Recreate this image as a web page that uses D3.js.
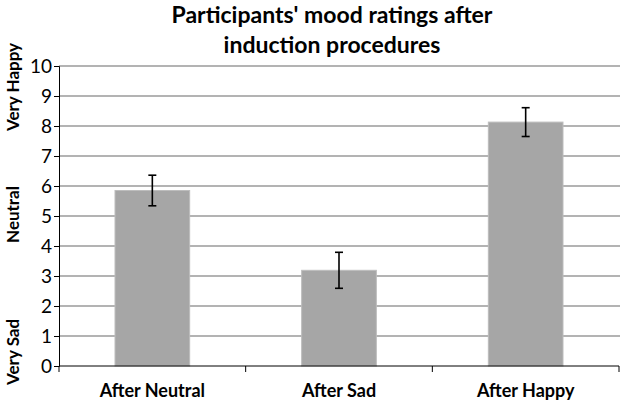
<!DOCTYPE html>
<html><head><meta charset="utf-8">
<script src="https://cdn.jsdelivr.net/npm/d3@7"></script>
<style>body{margin:0;background:#fff}svg{display:block;font-family:Lato,"Open Sans",sans-serif}</style>
</head><body><svg id="c" width="622" height="403"></svg>
<script>
const categories = ["After Neutral", "After Sad", "After Happy"];
const means = [5.85, 3.19, 8.13];
const errors = [0.51, 0.6, 0.48];
const yTicks = [0,1,2,3,4,5,6,7,8,9,10];
const titleLines = ["Participants' mood ratings after", "induction procedures"];
const sideLabels = [{text:"Very Happy", v:9.3}, {text:"Neutral", v:5.05}, {text:"Very Sad", v:0.47}];

const svg = d3.select("#c");
const L = 59, R = 619, T = 66, B = 366;
const x = d3.scaleBand().domain(categories).range([L, R]);
const y = d3.scaleLinear().domain([0, 10]).range([B, T]);

// gridlines
svg.append("g").selectAll("line").data(yTicks.filter(d => d > 0)).join("line")
  .attr("x1", L).attr("x2", R + 1).attr("y1", d => y(d)).attr("y2", d => y(d))
  .attr("stroke", "#9a9a9a").attr("stroke-width", 1.7);

// bars
const bw = x.bandwidth() * 0.4;
svg.append("g").selectAll("rect").data(means).join("rect")
  .attr("x", (d, i) => x(categories[i]) + x.bandwidth() / 2 - bw / 2)
  .attr("width", bw)
  .attr("y", d => y(d)).attr("height", d => B - y(d))
  .attr("fill", "#a6a6a6").attr("stroke", "#bdbdbd").attr("stroke-width", 1);

// error bars
const eg = svg.append("g").attr("stroke", "#000").attr("stroke-width", 1.6);
means.forEach((m, i) => {
  const cx = x(categories[i]) + x.bandwidth() / 2;
  eg.append("line").attr("x1", cx).attr("x2", cx).attr("y1", y(m + errors[i])).attr("y2", y(m - errors[i]));
  [m + errors[i], m - errors[i]].forEach(v => {
    eg.append("line").attr("x1", cx - 4).attr("x2", cx + 4).attr("y1", y(v)).attr("y2", y(v));
  });
});

// y axis
const ya = svg.append("g").attr("transform", `translate(${L},0)`)
  .call(d3.axisLeft(y).tickValues(yTicks).tickSize(5).tickPadding(2).tickFormat(d3.format("d")));
ya.selectAll("text").attr("font-size", 19).attr("fill", "#000").attr("font-family", "Lato");
ya.select(".domain").attr("stroke", "#000");
ya.selectAll(".tick line").attr("stroke", "#000");

// x axis
const xa = svg.append("g").attr("transform", `translate(0,${B})`)
  .call(d3.axisBottom(x).tickSize(0).tickPadding(18));
xa.select(".domain").attr("stroke", "#000").attr("d", `M${L},0H${R}`);
xa.selectAll("text").attr("font-size", 18).attr("font-weight", "bold").attr("fill", "#000").attr("font-family", "Lato");
const edges = [L, ...categories.map(c => x(c) + x.bandwidth())];
xa.append("g").selectAll("line").data(edges).join("line")
  .attr("x1", d => d).attr("x2", d => d).attr("y1", 0).attr("y2", 6).attr("stroke", "#000");

// title
svg.append("text").attr("x", 332).attr("y", 23).attr("text-anchor", "middle")
  .attr("font-size", 23).attr("font-weight", "bold")
  .selectAll("tspan").data(titleLines).join("tspan")
  .attr("x", 332).attr("dy", (d, i) => i === 0 ? 0 : 29.5).text(d => d);

// side labels
svg.append("g").selectAll("text").data(sideLabels).join("text")
  .attr("transform", d => `translate(19,${y(d.v)}) rotate(-90)`)
  .attr("text-anchor", "middle").attr("font-size", 17).attr("font-weight", "bold")
  .text(d => d.text);
</script></body></html>
